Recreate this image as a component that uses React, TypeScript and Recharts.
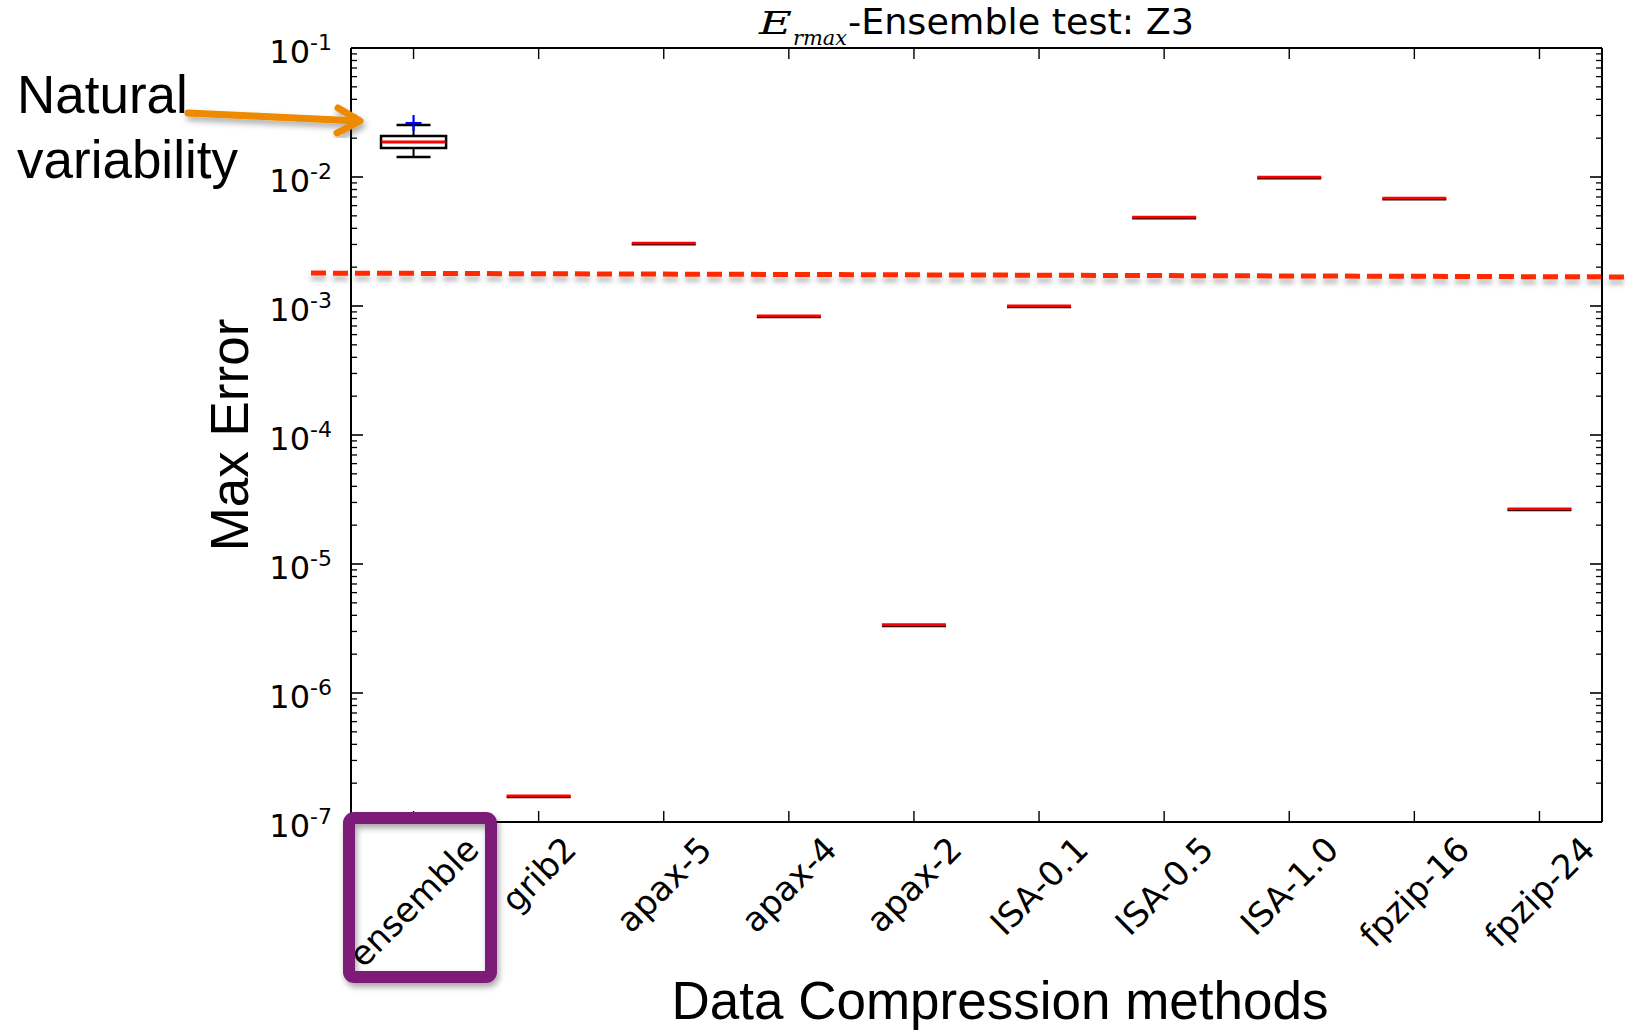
import React from 'react';
import { ComposedChart, XAxis, YAxis, Scatter, ReferenceArea, ReferenceLine } from 'recharts';

// ---------- data ----------
const categories = ['ensemble', 'grib2', 'apax-5', 'apax-4', 'apax-2', 'ISA-0.1', 'ISA-0.5', 'ISA-1.0', 'fpzip-16', 'fpzip-24'];
const medianValues = [1.87e-2, 1.59e-7, 3.06e-3, 8.36e-4, 3.37e-6, 1.0e-3, 4.87e-3, 9.95e-3, 6.84e-3, 2.67e-5];

const ensembleQ1 = 1.68e-2;
const ensembleQ3 = 2.08e-2;
const ensembleWhiskerLow = 1.43e-2;
const ensembleWhiskerHigh = 2.53e-2;
const ensembleOutliers = [2.62e-2];

const thresholdStart = 1.8e-3;
const thresholdEnd = 1.68e-3;

const yExponents = [-7, -6, -5, -4, -3, -2, -1];
const yMajorTicks = yExponents.map((e) => Math.pow(10, e));
const yMinorMultipliers = [2, 3, 4, 5, 6, 7, 8, 9];
const yAllTicks = [
  ...yMajorTicks,
  ...yMajorTicks.slice(0, -1).flatMap((m) => yMinorMultipliers.map((k) => k * m)),
];
const xTicks = categories.map((_, i) => i);

const medianData = medianValues.map((v, i) => ({ x: i, y: v }));
const outlierData = ensembleOutliers.map((v) => ({ x: 0, y: v }));

// ---------- helpers ----------
const charW: Record<string, number> = {
  a: 0.613, p: 0.635, x: 0.592, '-': 0.361, '0': 0.636, '1': 0.636, '2': 0.636, '4': 0.636,
  '5': 0.636, '6': 0.636, '.': 0.318, I: 0.295, S: 0.635, A: 0.684, e: 0.615, n: 0.634,
  s: 0.521, m: 0.974, b: 0.635, l: 0.278, g: 0.635, r: 0.411, i: 0.278, f: 0.352, z: 0.525, t: 0.392,
};
const textWidth = (s: string, fs: number) => s.split('').reduce((a, c) => a + (charW[c] ?? 0.6), 0) * fs;

const isMajor = (v: number) => {
  const l = Math.log10(v);
  return Math.abs(l - Math.round(l)) < 1e-6;
};

const LeftTick = (props: any) => {
  const { x, y, payload } = props;
  const v = payload.value;
  const major = isMajor(v);
  const exp = Math.round(Math.log10(v));
  return (
    <g>
      <line x1={x} y1={y} x2={x + (major ? 12 : 6)} y2={y} stroke="#000" strokeWidth={major ? 1.6 : 1.3} />
      {major && (
        <text x={x - 19} y={y + 15} textAnchor="end" fontFamily="DejaVu Sans" fontSize={32} fill="#000">
          10
          <tspan dy={-13} fontSize={22}>{`-${Math.abs(exp)}`}</tspan>
        </text>
      )}
    </g>
  );
};

const RightTick = (props: any) => {
  const { x, y, payload } = props;
  const major = isMajor(payload.value);
  return <line x1={x} y1={y} x2={x - (major ? 12 : 6)} y2={y} stroke="#000" strokeWidth={major ? 1.6 : 1.3} />;
};

const BottomTick = (props: any) => {
  const { x, y, payload } = props;
  const label = categories[payload.value] ?? '';
  const fs = 34;
  const w = textWidth(label, fs);
  const c = (w + fs) / (2 * Math.SQRT2);
  const cy = y + 9 + c;
  return (
    <g>
      <line x1={x} y1={y} x2={x} y2={y - 11} stroke="#000" strokeWidth={1.4} />
      <text
        x={x}
        y={cy}
        textAnchor="middle"
        dominantBaseline="central"
        transform={`rotate(-45, ${x}, ${cy})`}
        fontFamily="DejaVu Sans"
        fontSize={fs}
        fill="#000"
      >
        {label}
      </text>
    </g>
  );
};

const TopTick = (props: any) => {
  const { x, y } = props;
  return <line x1={x} y1={y} x2={x} y2={y + 11} stroke="#000" strokeWidth={1.4} />;
};

const MedianShape = (props: any) => {
  const { cx, cy, payload } = props;
  if (cx == null || cy == null) return <g />;
  const hw = 32;
  if (payload.x === 0) {
    return <line x1={cx - hw} y1={cy} x2={cx + hw} y2={cy} stroke="#ff0000" strokeWidth={3} />;
  }
  return (
    <g>
      <line x1={cx - hw} y1={cy + 1} x2={cx + hw} y2={cy + 1} stroke="#3a0000" strokeWidth={2.4} />
      <line x1={cx - hw} y1={cy - 0.3} x2={cx + hw} y2={cy - 0.3} stroke="#ff0000" strokeWidth={2.6} />
    </g>
  );
};

const PlusShape = (props: any) => {
  const { cx, cy } = props;
  if (cx == null || cy == null) return <g />;
  const s = 8;
  return (
    <g stroke="#0000ff" strokeWidth={2.2}>
      <line x1={cx - s} y1={cy} x2={cx + s} y2={cy} />
      <line x1={cx} y1={cy - s} x2={cx} y2={cy + s} />
    </g>
  );
};

const ThresholdShape = (props: any) => {
  const { x1, y1, x2, y2 } = props;
  if (x1 == null) return <g />;
  return (
    <g>
      <line x1={x1} y1={y1 + 5} x2={x2} y2={y2 + 5} stroke="#000" strokeOpacity={0.28} strokeWidth={5}
        strokeDasharray="15 7" filter="url(#blurShadow)" />
      <line x1={x1} y1={y1} x2={x2} y2={y2} stroke="#ff2a00" strokeWidth={5} strokeDasharray="15 7" />
    </g>
  );
};

const HiddenShape = () => <g />;

export default function App() {
  const axisLine = { stroke: '#000', strokeWidth: 2 };
  return (
    <div style={{ position: 'absolute', left: 0, top: 0, width: 1625, height: 1031, background: '#fff' }}>
      <svg width={0} height={0} style={{ position: 'absolute' }}>
        <defs>
          <filter id="blurShadow" x="-10%" y="-200%" width="120%" height="500%">
            <feGaussianBlur stdDeviation="2.5" />
          </filter>
          <filter id="dropShadow" x="-20%" y="-20%" width="140%" height="140%">
            <feGaussianBlur in="SourceAlpha" stdDeviation="3" />
            <feOffset dx="2" dy="4" result="ob" />
            <feComponentTransfer>
              <feFuncA type="linear" slope="0.35" />
            </feComponentTransfer>
            <feMerge>
              <feMergeNode />
              <feMergeNode in="SourceGraphic" />
            </feMerge>
          </filter>
        </defs>
      </svg>
      <ComposedChart width={1625} height={1031} margin={{ top: 47, right: 22, bottom: 109, left: 251 }}>
        <XAxis
          xAxisId="bottom"
          dataKey="x"
          type="number"
          domain={[-0.5, 9.5]}
          ticks={xTicks}
          interval={0}
          orientation="bottom"
          height={100}
          tickSize={0}
          tickMargin={0}
          tickLine={false}
          axisLine={axisLine}
          tick={<BottomTick />}
          allowDataOverflow
        />
        <XAxis
          xAxisId="top"
          dataKey="x"
          type="number"
          domain={[-0.5, 9.5]}
          ticks={xTicks}
          interval={0}
          orientation="top"
          height={1}
          tickSize={0}
          tickMargin={0}
          tickLine={false}
          axisLine={axisLine}
          tick={<TopTick />}
          allowDataOverflow
        />
        <YAxis
          yAxisId="left"
          dataKey="y"
          type="number"
          scale="log"
          domain={[1e-7, 1e-1]}
          ticks={yAllTicks}
          interval={0}
          orientation="left"
          width={100}
          tickSize={0}
          tickMargin={0}
          tickLine={false}
          axisLine={axisLine}
          tick={<LeftTick />}
          allowDataOverflow
        />
        <YAxis
          yAxisId="right"
          dataKey="y"
          type="number"
          scale="log"
          domain={[1e-7, 1e-1]}
          ticks={yAllTicks}
          interval={0}
          orientation="right"
          width={1}
          tickSize={0}
          tickMargin={0}
          tickLine={false}
          axisLine={axisLine}
          tick={<RightTick />}
          allowDataOverflow
        />

        <Scatter data={medianData} xAxisId="top" yAxisId="right" shape={<HiddenShape />} isAnimationActive={false} />

        <ReferenceArea
          xAxisId="bottom"
          yAxisId="left"
          x1={-0.26}
          x2={0.26}
          y1={ensembleQ1}
          y2={ensembleQ3}
          fill="none"
          fillOpacity={0}
          stroke="#000"
          strokeWidth={2.5}
        />
        <ReferenceLine xAxisId="bottom" yAxisId="left" segment={[{ x: 0, y: ensembleQ3 }, { x: 0, y: ensembleWhiskerHigh }]} stroke="#000" strokeWidth={2} />
        <ReferenceLine xAxisId="bottom" yAxisId="left" segment={[{ x: 0, y: ensembleQ1 }, { x: 0, y: ensembleWhiskerLow }]} stroke="#000" strokeWidth={2} />
        <ReferenceLine xAxisId="bottom" yAxisId="left" segment={[{ x: -0.136, y: ensembleWhiskerHigh }, { x: 0.136, y: ensembleWhiskerHigh }]} stroke="#000" strokeWidth={2.5} />
        <ReferenceLine xAxisId="bottom" yAxisId="left" segment={[{ x: -0.136, y: ensembleWhiskerLow }, { x: 0.136, y: ensembleWhiskerLow }]} stroke="#000" strokeWidth={2.5} />

        <Scatter data={medianData} xAxisId="bottom" yAxisId="left" shape={<MedianShape />} isAnimationActive={false} />
        <Scatter data={outlierData} xAxisId="bottom" yAxisId="left" shape={<PlusShape />} isAnimationActive={false} />

        <ReferenceLine
          xAxisId="bottom"
          yAxisId="left"
          segment={[{ x: -0.82, y: thresholdStart }, { x: 9.68, y: thresholdEnd }]}
          ifOverflow="visible"
          shape={<ThresholdShape />}
        />
      </ComposedChart>

      <svg
        width={1625}
        height={1031}
        style={{ position: 'absolute', left: 0, top: 0, pointerEvents: 'none' }}
      >
        {/* title */}
        <text x={759} y={34} fontFamily="DejaVu Serif" fontStyle="italic" fontSize={32} fill="#000" textLength={33} lengthAdjust="spacingAndGlyphs">E</text>
        <text x={793} y={45} fontFamily="DejaVu Serif" fontStyle="italic" fontSize={21} fill="#000" textLength={54} lengthAdjust="spacingAndGlyphs">rmax</text>
        <text x={848} y={34} fontFamily="DejaVu Sans" fontSize={35} fill="#000" textLength={346} lengthAdjust="spacingAndGlyphs">-Ensemble test: Z3</text>

        {/* axis labels */}
        <text x={248} y={435} transform="rotate(-90, 248, 435)" textAnchor="middle" fontFamily="Liberation Sans" fontSize={53} fill="#000">Max Error</text>
        <text x={1000} y={1019} textAnchor="middle" fontFamily="Liberation Sans" fontSize={53} fill="#000">Data Compression methods</text>

        {/* annotation */}
        <text x={17} y={113} fontFamily="Liberation Sans" fontSize={53} fill="#000">Natural</text>
        <text x={17} y={178} fontFamily="Liberation Sans" fontSize={53} fill="#000">variability</text>
        <g filter="url(#dropShadow)" stroke="#ee8a00" strokeWidth={7} fill="none" strokeLinecap="round" strokeLinejoin="round">
          <line x1={188} y1={113} x2={358} y2={121} />
          <polyline points="338,108 360,121 337,133" />
        </g>
        <rect x={349} y={818} width={142} height={159} rx={5} ry={5} fill="none" stroke="#7b1a78" strokeWidth={12} filter="url(#dropShadow)" />
      </svg>
    </div>
  );
}
